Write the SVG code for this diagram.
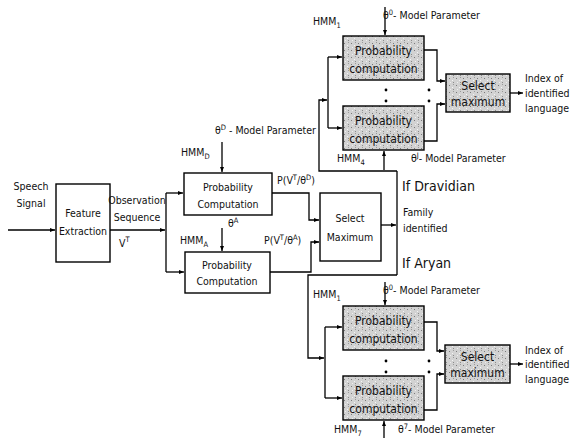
<svg xmlns="http://www.w3.org/2000/svg" width="578" height="438" viewBox="0 0 578 438">
<defs>
<marker id="ah" viewBox="0 0 10 10" refX="10" refY="5" markerWidth="5" markerHeight="5" orient="auto" markerUnits="userSpaceOnUse">
<path d="M0,1 L10,5 L0,9 z" fill="#000"/>
</marker>
<pattern id="stip" width="7" height="7" patternUnits="userSpaceOnUse">
<rect width="7" height="7" fill="#d2d2d2"/>
<rect x="1" y="1" width="1" height="1" fill="#7a7a7a"/>
<rect x="4" y="3" width="1" height="1" fill="#f4f4f4"/>
<rect x="5" y="5" width="1" height="1" fill="#8a8a8a"/>
<rect x="2" y="5" width="1" height="1" fill="#efefef"/>
<rect x="5" y="0" width="1" height="1" fill="#9a9a9a"/>
</pattern>
<style>
text{font-family:"DejaVu Sans Condensed","DejaVu Sans",sans-serif;fill:#111;font-size:10.5px}
.c{text-anchor:middle}
.big{font-size:14px}
.bx{font-size:12px}
.sub{font-size:7.5px}
.box{fill:#fff;stroke:#000;stroke-width:1.4}
.sbox{fill:url(#stip);stroke:#000;stroke-width:1.4}
.ln{fill:none;stroke:#000;stroke-width:1.3}
.ar{fill:none;stroke:#000;stroke-width:1.3;marker-end:url(#ah)}
</style>
</defs>

<g id="connectors">
<path class="ar" d="M8,230 H55"/>
<path class="ar" d="M110,230 H165"/>
<path class="ln" d="M166,193 V272"/>
<path class="ar" d="M166,193 H183"/>
<path class="ar" d="M166,272 H184"/>
<path class="ar" d="M222,142 V172"/>
<path class="ar" d="M222,228 V251"/>
<path class="ar" d="M272,193 H309 V220 H319"/>
<path class="ar" d="M270,272 H311 V242 H319"/>
<path class="ar" d="M381,225 H396"/>
<path class="ln" d="M397,171 V275"/>
<path class="ar" d="M397,171 H319 V100 H327"/>
<path class="ln" d="M328,57 V128"/>
<path class="ar" d="M328,57 H342"/>
<path class="ar" d="M328,128 H342"/>
<path class="ar" d="M385,7 V35"/>
<path class="ar" d="M384,170 V151"/>
<path class="ar" d="M424,50 H437 V81 H445"/>
<path class="ar" d="M424,141 H437 V104 H445"/>
<path class="ar" d="M510,93 H523"/>
<path class="ar" d="M397,275 H308 V358 H324"/>
<path class="ln" d="M325,327 V398"/>
<path class="ar" d="M325,327 H342"/>
<path class="ar" d="M325,398 H342"/>
<path class="ar" d="M385,282 V305"/>
<path class="ar" d="M384,438 V421"/>
<path class="ar" d="M424,322 H437 V351 H444"/>
<path class="ar" d="M424,410 H437 V374 H444"/>
<path class="ar" d="M510,364 H523"/>
</g>

<g id="input-label">
<text x="31" y="190" class="c">Speech</text>
<text x="31" y="207" class="c">Signal</text>
</g>

<g id="feature-extraction">
<rect class="box" x="56" y="184" width="54" height="78"/>
<text x="83" y="217" class="c">Feature</text>
<text x="83" y="235" class="c">Extraction</text>
</g>

<g id="observation-label">
<text x="137" y="204" class="c">Observation</text>
<text x="137" y="221" class="c">Sequence</text>
<text x="119" y="247">V<tspan class="sub" dy="-5">T</tspan></text>
</g>

<g id="prob-dravidian">
<text x="215" y="134">θ<tspan class="sub" dy="-4">D</tspan><tspan dy="4"> - Model Parameter</tspan></text>
<text x="181" y="156">HMM<tspan class="sub" dy="3">D</tspan></text>
<rect class="box" x="184" y="173" width="88" height="42"/>
<text x="228" y="191" class="c">Probability</text>
<text x="228" y="208" class="c">Computation</text>
<text x="277" y="184">P(V<tspan class="sub" dy="-4">T</tspan><tspan dy="4">/θ</tspan><tspan class="sub" dy="-4">D</tspan><tspan dy="4">)</tspan></text>
</g>

<g id="prob-aryan">
<text x="228" y="227">θ<tspan class="sub" dy="-4">A</tspan></text>
<text x="180" y="244">HMM<tspan class="sub" dy="3">A</tspan></text>
<rect class="box" x="185" y="252" width="85" height="41"/>
<text x="227" y="269" class="c">Probability</text>
<text x="227" y="285" class="c">Computation</text>
<text x="264" y="244">P(V<tspan class="sub" dy="-4">T</tspan><tspan dy="4">/θ</tspan><tspan class="sub" dy="-4">A</tspan><tspan dy="4">)</tspan></text>
</g>

<g id="select-family">
<rect class="box" x="320" y="193" width="61" height="68"/>
<text x="350" y="222" class="c">Select</text>
<text x="350" y="241" class="c">Maximum</text>
<text x="403" y="216">Family</text>
<text x="403" y="232">identified</text>
<text x="402" y="191" class="big">If Dravidian</text>
<text x="402" y="268" class="big">If Aryan</text>
</g>

<g id="dravidian-group">
<text x="313" y="25">HMM<tspan class="sub" dy="3">1</tspan></text>
<text x="383" y="19">θ<tspan class="sub" dy="-4">0</tspan><tspan dy="4">- Model Parameter</tspan></text>
<rect class="sbox" x="343" y="36" width="81" height="44"/>
<text x="383.5" y="55" class="c bx">Probability</text>
<text x="383.5" y="73" class="c bx">computation</text>
<circle cx="386" cy="90" r="1.4"/><circle cx="429" cy="90" r="1.4"/>
<circle cx="386" cy="101" r="1.4"/><circle cx="429" cy="101" r="1.4"/>
<rect class="sbox" x="343" y="106" width="81" height="44"/>
<text x="383.5" y="125" class="c bx">Probability</text>
<text x="383.5" y="143" class="c bx">computation</text>
<text x="337" y="162">HMM<tspan class="sub" dy="3">4</tspan></text>
<text x="411" y="162">θ<tspan class="sub" dy="-4">J</tspan><tspan dy="4">- Model Parameter</tspan></text>
<rect class="sbox" x="446" y="74" width="64" height="38"/>
<text x="478" y="90" class="c bx">Select</text>
<text x="478" y="106" class="c bx">maximum</text>
<text x="525" y="82">Index of</text>
<text x="525" y="97">identified</text>
<text x="525" y="112">language</text>
</g>

<g id="aryan-group">
<text x="313" y="298">HMM<tspan class="sub" dy="3">1</tspan></text>
<text x="383" y="294">θ<tspan class="sub" dy="-4">0</tspan><tspan dy="4">- Model Parameter</tspan></text>
<rect class="sbox" x="343" y="306" width="81" height="44"/>
<text x="383.5" y="325" class="c bx">Probability</text>
<text x="383.5" y="343" class="c bx">computation</text>
<circle cx="386" cy="361" r="1.4"/><circle cx="429" cy="361" r="1.4"/>
<circle cx="386" cy="372" r="1.4"/><circle cx="429" cy="372" r="1.4"/>
<rect class="sbox" x="343" y="376" width="81" height="44"/>
<text x="383.5" y="395" class="c bx">Probability</text>
<text x="383.5" y="413" class="c bx">computation</text>
<text x="334" y="433">HMM<tspan class="sub" dy="3">7</tspan></text>
<text x="398" y="433">θ<tspan class="sub" dy="-4">7</tspan><tspan dy="4">- Model Parameter</tspan></text>
<rect class="sbox" x="445" y="345" width="65" height="38"/>
<text x="477.5" y="361" class="c bx">Select</text>
<text x="477.5" y="377" class="c bx">maximum</text>
<text x="525" y="354">Index of</text>
<text x="525" y="368">identified</text>
<text x="525" y="383">language</text>
</g>
</svg>
